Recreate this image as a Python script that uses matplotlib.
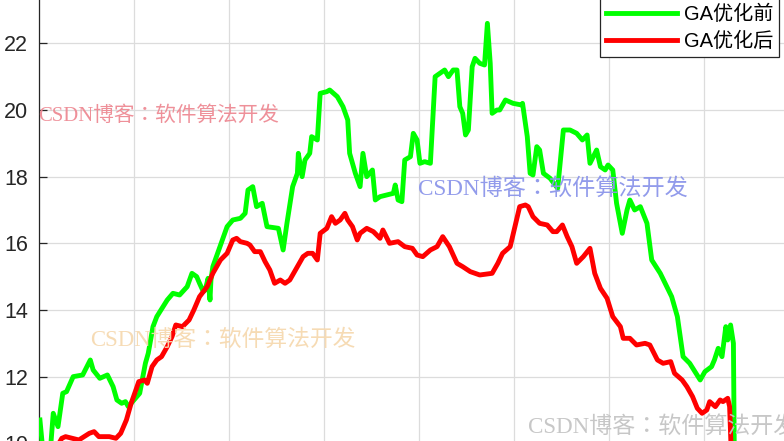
import matplotlib

matplotlib.use("Agg")
import matplotlib.pyplot as plt

# sample index (grid every 100) and the two fitness curves
X_BEFORE = [1, 4, 12, 15, 20, 25, 29, 36, 46, 54, 57, 64, 72, 78, 82, 87, 91, 94,
            100, 106, 112, 115, 120, 124, 135, 141, 148, 156, 161, 166, 169, 173,
            175, 178, 180, 181, 183, 193, 198, 204, 212, 217, 220, 225, 229, 235,
            240, 252, 257, 261, 267, 272, 273, 277, 280, 285, 287, 293, 296, 303,
            306, 314, 320, 325, 327, 333, 338, 341, 345, 351, 354, 359, 373, 375,
            378, 382, 385, 391, 394, 398, 401, 406, 412, 417, 422, 427, 431, 436,
            440, 443, 446, 449, 452, 456, 459, 464, 469, 472, 475, 477, 482, 485,
            491, 499, 508, 509, 514, 517, 520, 524, 527, 531, 538, 546, 552, 559,
            566, 572, 577, 580, 587, 591, 596, 599, 604, 608, 614, 619, 622, 627,
            633, 640, 645, 654, 666, 672, 678, 685, 696, 701, 708, 711, 715, 719,
            723, 725, 728, 731, 732]
Y_BEFORE = [10.7, 9.8, 9.8, 10.9, 10.5, 11.5, 11.55, 12.0, 12.05, 12.5, 12.2, 11.95,
            12.05, 11.7, 11.3, 11.2, 11.25, 11.1, 11.3, 11.5, 12.4, 12.7, 13.5, 13.8,
            14.3, 14.5, 14.45, 14.7, 15.1, 15.0, 14.8, 14.55, 14.6, 14.95, 14.3,
            14.9, 15.3, 16.1, 16.5, 16.7, 16.75, 16.9, 17.6, 17.7, 17.1, 17.2, 16.5,
            16.45, 15.8, 16.6, 17.7, 18.1, 18.7, 18.0, 18.5, 18.7, 19.2, 19.1, 20.5,
            20.55, 20.6, 20.4, 20.1, 19.7, 18.7, 18.1, 17.7, 18.7, 18.0, 18.2, 17.3,
            17.4, 17.5, 17.75, 17.3, 17.25, 18.5, 18.6, 19.3, 19.1, 18.4, 18.45,
            18.4, 21.0, 21.1, 21.2, 21.0, 21.2, 21.2, 20.1, 19.9, 19.25, 19.4, 21.3,
            21.55, 21.4, 21.35, 22.6, 21.4, 19.9, 20.0, 20.0, 20.3, 20.2, 20.15,
            20.2, 19.2, 18.1, 18.05, 18.9, 18.8, 18.1, 17.95, 17.65, 19.4, 19.4,
            19.3, 19.1, 19.25, 18.4, 18.8, 18.3, 18.2, 18.35, 18.2, 17.2, 16.3,
            17.0, 17.3, 17.0, 17.1, 16.6, 15.5, 15.1, 14.4, 13.8, 12.6, 12.4, 11.9,
            12.15, 12.3, 12.5, 12.85, 12.6, 13.5, 13.1, 13.55, 13.0, 9.5]

X_AFTER = [1, 17, 24, 28, 42, 53, 58, 63, 74, 81, 86, 92, 97, 102, 105, 111, 114,
           119, 124, 129, 135, 140, 144, 151, 158, 163, 169, 177, 183, 191, 198,
           204, 208, 212, 219, 222, 227, 233, 238, 243, 248, 254, 259, 264, 272,
           278, 283, 288, 293, 296, 303, 308, 312, 317, 322, 325, 330, 335, 338,
           345, 352, 359, 362, 369, 378, 385, 393, 398, 404, 412, 419, 425, 432,
           440, 446, 454, 464, 477, 483, 488, 496, 501, 506, 512, 515, 520, 527,
           535, 541, 545, 551, 556, 561, 566, 573, 580, 585, 591, 598, 604, 612,
           615, 622, 629, 638, 643, 651, 657, 665, 669, 677, 682, 688, 693, 698,
           703, 706, 712, 717, 720, 725, 727, 729]
Y_AFTER = [9.7, 9.8, 10.15, 10.2, 10.1, 10.3, 10.35, 10.2, 10.2, 10.15, 10.3, 10.7,
           11.2, 11.6, 11.85, 11.9, 11.8, 12.3, 12.5, 12.6, 12.9, 13.2, 13.55, 13.5,
           13.7, 14.0, 14.4, 14.7, 15.1, 15.5, 15.7, 16.1, 16.15, 16.05, 16.0,
           15.95, 15.75, 15.75, 15.45, 15.2, 14.8, 14.9, 14.8, 14.9, 15.3, 15.6,
           15.7, 15.7, 15.5, 16.3, 16.45, 16.8, 16.6, 16.7, 16.9, 16.7, 16.5, 16.1,
           16.3, 16.45, 16.35, 16.15, 16.4, 16.0, 16.05, 15.9, 15.85, 15.65, 15.6,
           15.8, 15.9, 16.2, 15.9, 15.4, 15.3, 15.15, 15.05, 15.1, 15.4, 15.7, 15.9,
           16.5, 17.1, 17.15, 17.1, 16.8, 16.6, 16.55, 16.35, 16.35, 16.55, 16.2,
           15.9, 15.4, 15.6, 15.85, 15.1, 14.65, 14.35, 13.8, 13.5, 13.15, 13.15,
           12.95, 13.0, 12.95, 12.5, 12.4, 12.45, 12.1, 11.9, 11.7, 11.4, 11.05,
           10.9, 11.0, 11.25, 11.1, 11.3, 11.25, 11.35, 11.1, 9.5]

Y_TICKS = [10, 12, 14, 16, 18, 20, 22]
X_TICKS = [0, 100, 200, 300, 400, 500, 600, 700, 800]
LABELS = ["GA优化前", "GA优化后"]
WATERMARK = "CSDN博客：软件算法开发"

W, H = 784, 441
fig = plt.figure(figsize=(W / 100, H / 100), dpi=100)
# the reference is a crop of a larger MATLAB figure: axes run past the edges
ax = fig.add_axes([39 / W, -20 / H, 1.0, 1 + 40 / H])
ax.plot(X_BEFORE, Y_BEFORE, color="#00ff00", lw=3.5, label=LABELS[0], zorder=3)
ax.plot(X_AFTER, Y_AFTER, color="#ff0000", lw=3.5, label=LABELS[1], zorder=3)

ax.set_xlim(0, 825.3)
ax.set_ylim(9.469, 23.9)
ax.set_xticks(X_TICKS)
ax.set_yticks(Y_TICKS)
ax.set_xticklabels([])
ax.grid(True, color="#dcdcdc", lw=0.9, zorder=0)
ax.set_axisbelow(True)
for side in ("top", "right", "bottom"):
    ax.spines[side].set_visible(False)
ax.spines["left"].set_color("#262626")
ax.spines["left"].set_linewidth(0.9)
ax.tick_params(axis="y", direction="in", length=6, width=0.9, pad=8,
               labelsize=15.5, colors="#262626")
for t in ax.get_yticklabels():
    t.set_family(["Liberation Sans", "DejaVu Sans"])

leg = ax.legend(loc="lower right", bbox_to_anchor=(779 / W, 1 - 57 / H),
                bbox_transform=fig.transFigure, borderaxespad=0,
                prop={"family": ["Liberation Sans", "Noto Sans CJK SC"], "size": 14.5},
                fancybox=False, framealpha=1, edgecolor="#262626",
                handlelength=3.5, handletextpad=0.35, labelspacing=0.4,
                borderpad=0.3)
leg.get_frame().set_linewidth(0.9)
for line in leg.get_lines():
    line.set_linewidth(3.5)

# TC variant centres the full-width colon, as in the reference watermark
wm_font = ["Liberation Serif", "Noto Sans CJK TC"]
marks = [(38, 116, "#ee8a94", 14.9), (418, 190, "#8c96ea", 16.7),
         (90, 340, "#f6d9b0", 16.4), (528, 427, "#c4c4c4", 16.6)]
for px, py, col, size in marks:
    fig.text(px / W, 1 - py / H, WATERMARK, color=col, fontsize=size,
             family=wm_font, ha="left", va="center", alpha=0.95, zorder=10)

fig.savefig("out.png", dpi=100)
